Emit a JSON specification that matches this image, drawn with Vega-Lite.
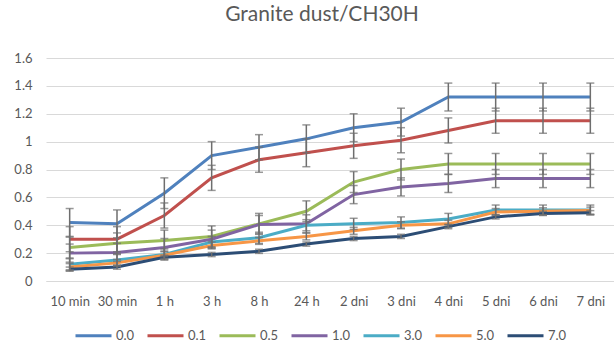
{
  "$schema": "https://vega.github.io/schema/vega-lite/v6.json",
  "width": 568,
  "height": 223,
  "autosize": {"type": "none"},
  "padding": {"left": 46, "top": 58, "right": 0, "bottom": 61},
  "background": "white",
  "config": {
    "font": "Lato",
    "view": {"stroke": null}
  },
  "title": {
    "text": "Granite dust/CH30H",
    "fontSize": 21,
    "fontWeight": "normal",
    "color": "#595959",
    "font": "Lato",
    "offset": 27,
    "dx": -8
  },
  "datasets": {
    "d": [
      {"t": "10 min", "s": "0.0", "v": 0.42, "e": 0.1},
      {"t": "30 min", "s": "0.0", "v": 0.41, "e": 0.1},
      {"t": "1 h", "s": "0.0", "v": 0.63, "e": 0.11},
      {"t": "3 h", "s": "0.0", "v": 0.9, "e": 0.1},
      {"t": "8 h", "s": "0.0", "v": 0.96, "e": 0.09},
      {"t": "24 h", "s": "0.0", "v": 1.02, "e": 0.1},
      {"t": "2 dni", "s": "0.0", "v": 1.1, "e": 0.1},
      {"t": "3 dni", "s": "0.0", "v": 1.14, "e": 0.1},
      {"t": "4 dni", "s": "0.0", "v": 1.32, "e": 0.1},
      {"t": "5 dni", "s": "0.0", "v": 1.32, "e": 0.1},
      {"t": "6 dni", "s": "0.0", "v": 1.32, "e": 0.1},
      {"t": "7 dni", "s": "0.0", "v": 1.32, "e": 0.1},

      {"t": "10 min", "s": "0.1", "v": 0.3, "e": 0.09},
      {"t": "30 min", "s": "0.1", "v": 0.3, "e": 0.09},
      {"t": "1 h", "s": "0.1", "v": 0.47, "e": 0.09},
      {"t": "3 h", "s": "0.1", "v": 0.74, "e": 0.09},
      {"t": "8 h", "s": "0.1", "v": 0.87, "e": 0.09},
      {"t": "24 h", "s": "0.1", "v": 0.92, "e": 0.1},
      {"t": "2 dni", "s": "0.1", "v": 0.97, "e": 0.09},
      {"t": "3 dni", "s": "0.1", "v": 1.01, "e": 0.09},
      {"t": "4 dni", "s": "0.1", "v": 1.08, "e": 0.09},
      {"t": "5 dni", "s": "0.1", "v": 1.15, "e": 0.09},
      {"t": "6 dni", "s": "0.1", "v": 1.15, "e": 0.09},
      {"t": "7 dni", "s": "0.1", "v": 1.15, "e": 0.09},

      {"t": "10 min", "s": "0.5", "v": 0.24, "e": 0.075},
      {"t": "30 min", "s": "0.5", "v": 0.27, "e": 0.075},
      {"t": "1 h", "s": "0.5", "v": 0.29, "e": 0.075},
      {"t": "3 h", "s": "0.5", "v": 0.32, "e": 0.075},
      {"t": "8 h", "s": "0.5", "v": 0.41, "e": 0.075},
      {"t": "24 h", "s": "0.5", "v": 0.5, "e": 0.075},
      {"t": "2 dni", "s": "0.5", "v": 0.71, "e": 0.075},
      {"t": "3 dni", "s": "0.5", "v": 0.8, "e": 0.075},
      {"t": "4 dni", "s": "0.5", "v": 0.84, "e": 0.075},
      {"t": "5 dni", "s": "0.5", "v": 0.84, "e": 0.075},
      {"t": "6 dni", "s": "0.5", "v": 0.84, "e": 0.075},
      {"t": "7 dni", "s": "0.5", "v": 0.84, "e": 0.075},

      {"t": "10 min", "s": "1.0", "v": 0.2, "e": 0.065},
      {"t": "30 min", "s": "1.0", "v": 0.205, "e": 0.065},
      {"t": "1 h", "s": "1.0", "v": 0.24, "e": 0.065},
      {"t": "3 h", "s": "1.0", "v": 0.3, "e": 0.065},
      {"t": "8 h", "s": "1.0", "v": 0.405, "e": 0.065},
      {"t": "24 h", "s": "1.0", "v": 0.41, "e": 0.065},
      {"t": "2 dni", "s": "1.0", "v": 0.62, "e": 0.065},
      {"t": "3 dni", "s": "1.0", "v": 0.675, "e": 0.065},
      {"t": "4 dni", "s": "1.0", "v": 0.7, "e": 0.065},
      {"t": "5 dni", "s": "1.0", "v": 0.735, "e": 0.065},
      {"t": "6 dni", "s": "1.0", "v": 0.735, "e": 0.065},
      {"t": "7 dni", "s": "1.0", "v": 0.735, "e": 0.065},

      {"t": "10 min", "s": "3.0", "v": 0.12, "e": 0.04},
      {"t": "30 min", "s": "3.0", "v": 0.15, "e": 0.04},
      {"t": "1 h", "s": "3.0", "v": 0.19, "e": 0.04},
      {"t": "3 h", "s": "3.0", "v": 0.28, "e": 0.04},
      {"t": "8 h", "s": "3.0", "v": 0.31, "e": 0.04},
      {"t": "24 h", "s": "3.0", "v": 0.4, "e": 0.04},
      {"t": "2 dni", "s": "3.0", "v": 0.41, "e": 0.04},
      {"t": "3 dni", "s": "3.0", "v": 0.42, "e": 0.04},
      {"t": "4 dni", "s": "3.0", "v": 0.445, "e": 0.04},
      {"t": "5 dni", "s": "3.0", "v": 0.51, "e": 0.035},
      {"t": "6 dni", "s": "3.0", "v": 0.51, "e": 0.035},
      {"t": "7 dni", "s": "3.0", "v": 0.51, "e": 0.035},

      {"t": "10 min", "s": "5.0", "v": 0.1, "e": 0.025},
      {"t": "30 min", "s": "5.0", "v": 0.13, "e": 0.025},
      {"t": "1 h", "s": "5.0", "v": 0.185, "e": 0.025},
      {"t": "3 h", "s": "5.0", "v": 0.255, "e": 0.025},
      {"t": "8 h", "s": "5.0", "v": 0.288, "e": 0.025},
      {"t": "24 h", "s": "5.0", "v": 0.32, "e": 0.025},
      {"t": "2 dni", "s": "5.0", "v": 0.36, "e": 0.025},
      {"t": "3 dni", "s": "5.0", "v": 0.4, "e": 0.025},
      {"t": "4 dni", "s": "5.0", "v": 0.41, "e": 0.025},
      {"t": "5 dni", "s": "5.0", "v": 0.495, "e": 0.025},
      {"t": "6 dni", "s": "5.0", "v": 0.5, "e": 0.025},
      {"t": "7 dni", "s": "5.0", "v": 0.505, "e": 0.025},

      {"t": "10 min", "s": "7.0", "v": 0.085, "e": 0.015},
      {"t": "30 min", "s": "7.0", "v": 0.1, "e": 0.015},
      {"t": "1 h", "s": "7.0", "v": 0.17, "e": 0.015},
      {"t": "3 h", "s": "7.0", "v": 0.19, "e": 0.015},
      {"t": "8 h", "s": "7.0", "v": 0.213, "e": 0.015},
      {"t": "24 h", "s": "7.0", "v": 0.265, "e": 0.015},
      {"t": "2 dni", "s": "7.0", "v": 0.305, "e": 0.015},
      {"t": "3 dni", "s": "7.0", "v": 0.32, "e": 0.015},
      {"t": "4 dni", "s": "7.0", "v": 0.39, "e": 0.015},
      {"t": "5 dni", "s": "7.0", "v": 0.46, "e": 0.015},
      {"t": "6 dni", "s": "7.0", "v": 0.485, "e": 0.015},
      {"t": "7 dni", "s": "7.0", "v": 0.49, "e": 0.015}
    ]
  },
  "data": {"name": "d"},
  "encoding": {
    "x": {
      "field": "t",
      "type": "ordinal",
      "sort": ["10 min", "30 min", "1 h", "3 h", "8 h", "24 h", "2 dni", "3 dni", "4 dni", "5 dni", "6 dni", "7 dni"],
      "scale": {"type": "point", "padding": 0.5},
      "axis": {
        "title": null,
        "labelAngle": 0,
        "labelFontSize": 13,
        "labelColor": "#595959",
        "labelPadding": 14,
        "labelOverlap": false,
        "ticks": false,
        "domain": true,
        "domainColor": "#d9d9d9",
        "grid": false
      }
    },
    "y": {
      "field": "v",
      "type": "quantitative",
      "scale": {"domain": [0, 1.6], "nice": false},
      "axis": {
        "title": null,
        "values": [0, 0.2, 0.4, 0.6, 0.8, 1, 1.2, 1.4, 1.6],
        "format": "~g",
        "labelFontSize": 13,
        "labelColor": "#595959",
        "labelPadding": 14,
        "labelOverlap": false,
        "labelBound": false,
        "ticks": false,
        "domain": false,
        "gridColor": "#d9d9d9",
        "gridWidth": 1
      }
    }
  },
  "layer": [
    {
      "mark": {"type": "line", "strokeWidth": 3},
      "encoding": {
        "color": {
          "field": "s",
          "type": "nominal",
          "scale": {
            "domain": ["0.0", "0.1", "0.5", "1.0", "3.0", "5.0", "7.0"],
            "range": ["#4F81BD", "#C0504D", "#9BBB59", "#8064A2", "#4BACC6", "#F79646", "#2C4D75"]
          },
          "legend": {
            "title": null,
            "orient": "none",
            "direction": "horizontal",
            "legendX": 28,
            "legendY": 258,
            "symbolType": "stroke",
            "symbolSize": 1296,
            "symbolStrokeWidth": 3,
            "labelFontSize": 13,
            "labelColor": "#595959",
            "labelOffset": 3,
            "columnPadding": 6
          }
        }
      }
    },
    {
      "mark": {
        "type": "errorbar",
        "ticks": {"size": 8, "color": "#6e6e6e", "thickness": 1.5},
        "rule": {"color": "#6e6e6e", "strokeWidth": 1.5}
      },
      "encoding": {
        "yError": {"field": "e"}
      }
    }
  ]
}
